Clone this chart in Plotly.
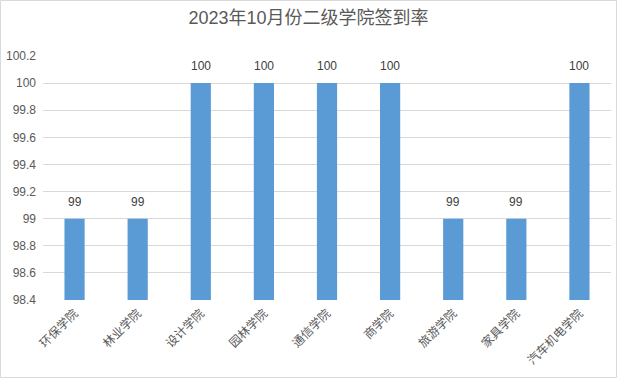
import plotly.graph_objects as go

categories = ["环保学院", "林业学院", "设计学院", "园林学院", "通信学院", "商学院", "旅游学院", "家具学院", "汽车机电学院"]
values = [99, 99, 100, 100, 100, 100, 99, 99, 100]
title = "2023年10月份二级学院签到率"
y_ticks = [98.4, 98.6, 98.8, 99, 99.2, 99.4, 99.6, 99.8, 100, 100.2]

W, H = 617, 378
ml, mr, mt, mb = 43, 6, 56, 78
pw, ph = W - ml - mr, H - mt - mb

font_fam = "Liberation Sans, Noto Sans CJK SC, sans-serif"

fig = go.Figure(go.Bar(
    x=categories, y=values,
    marker=dict(color="#5b9bd5", line=dict(width=0)),
    width=0.32,
))

annotations = [
    dict(x=c, y=v, text=str(v), showarrow=False, yanchor="bottom", yshift=8,
         font=dict(size=12, color="#404040", family=font_fam))
    for c, v in zip(categories, values)
]

fig.update_layout(
    width=W, height=H,
    margin=dict(l=ml, r=mr, t=mt, b=mb, autoexpand=False),
    paper_bgcolor="white", plot_bgcolor="white",
    title=dict(text=title, x=0.5, xanchor="center", y=1 - 18 / H, yanchor="middle",
               font=dict(size=18, color="#595959", family=font_fam)),
    showlegend=False,
    font=dict(family=font_fam, color="#595959", size=12),
    xaxis=dict(tickangle=-45, tickfont=dict(size=12, color="#595959"), automargin=False,
               showline=False, showgrid=False, ticks="", ticklabelstandoff=3),
    yaxis=dict(range=[98.4, 100.2], tickvals=y_ticks, ticktext=[f"{v:g}" for v in y_ticks],
               showgrid=True, gridcolor="#d9d9d9", gridwidth=1, zeroline=False, automargin=False,
               showline=False, ticks="", ticklen=0, ticklabelstandoff=6,
               tickfont=dict(size=12, color="#595959")),
    annotations=annotations,
    shapes=[dict(type="rect", xref="paper", yref="paper",
                 x0=-(ml - 0.5) / pw, x1=1 + (mr - 0.5) / pw,
                 y0=-(mb - 0.5) / ph, y1=1 + (mt - 0.5) / ph,
                 line=dict(color="#d9d9d9", width=1), fillcolor="rgba(0,0,0,0)", layer="above")],
)

fig.write_html("out.html", config={"displayModeBar": False},
               post_script="document.body.style.margin='0';document.body.style.overflow='hidden';")
